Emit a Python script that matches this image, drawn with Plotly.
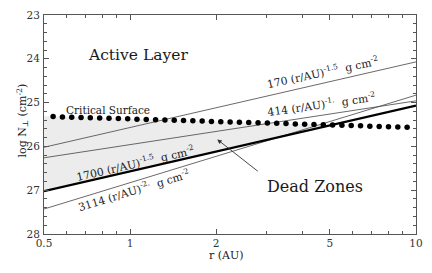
import plotly.graph_objects as go

# Power-law column-density lines: log N at r = 0.5 AU and r = 10 AU
line_r = [0.5, 10.0]
line_170 = [26.02, 24.07]
line_414 = [26.26, 24.96]
line_1700 = [27.02, 25.07]
line_3114 = [27.43, 24.83]

# Critical surface dots
crit_r = [0.538, 0.580, 0.625, 0.674, 0.726, 0.783, 0.844, 0.910, 0.981, 1.057,
          1.139, 1.228, 1.324, 1.427, 1.538, 1.658, 1.787, 1.926, 2.076, 2.238,
          2.412, 2.600, 2.803, 3.021, 3.257, 3.510, 3.784, 4.079, 4.397, 4.739,
          5.108, 5.506, 5.935, 6.398, 6.896, 7.434, 8.013, 8.637, 9.310]
crit_logN = [25.320, 25.326, 25.333, 25.339, 25.346, 25.352, 25.358, 25.365, 25.371, 25.378,
             25.384, 25.390, 25.397, 25.403, 25.410, 25.416, 25.422, 25.429, 25.435, 25.442,
             25.448, 25.455, 25.461, 25.467, 25.474, 25.480, 25.486, 25.493, 25.499, 25.506,
             25.512, 25.519, 25.525, 25.531, 25.538, 25.544, 25.551, 25.557, 25.563]

# Dead zone shaded polygon
fill_r = [0.5, 5.1, 0.5]
fill_logN = [25.31, 25.51, 27.02]

x_tickvals = [0.5, 1, 2, 5, 10]
x_ticktext = ["0.5", "1", "2", "5", "10"]
x_minor = [0.6, 0.7, 0.8, 0.9, 3, 4, 6, 7, 8, 9]
y_tickvals = [23, 24, 25, 26, 27, 28]

FONT = "DejaVu Serif"
LINE_COL = "#444444"
TXT_COL = "#1a1a1a"

fig = go.Figure()
fig.add_trace(go.Scatter(x=fill_r, y=fill_logN, mode="lines", fill="toself",
                         fillcolor="#ececec", line=dict(width=0), hoverinfo="skip"))
for ys in (line_170, line_414, line_3114):
    fig.add_trace(go.Scatter(x=line_r, y=ys, mode="lines",
                             line=dict(color=LINE_COL, width=0.8)))
fig.add_trace(go.Scatter(x=line_r, y=line_1700, mode="lines",
                         line=dict(color="black", width=2.2)))
fig.add_trace(go.Scatter(x=crit_r, y=crit_logN, mode="markers",
                         marker=dict(color="black", size=5.5)))

axis_common = dict(showline=True, linecolor="#555555", linewidth=1, mirror="ticks",
                   ticks="inside", ticklen=5, tickcolor="#555555", tickwidth=1,
                   showgrid=False, zeroline=False, ticklabeloverflow="allow",
                   tickfont=dict(family=FONT, size=10.5, color="#333333"))

fig.update_layout(
    width=432, height=273,
    margin=dict(l=44, r=9, t=9, b=39),
    paper_bgcolor="white", plot_bgcolor="white",
    showlegend=False,
    font=dict(family=FONT, color=TXT_COL),
    xaxis=dict(type="log", range=[-0.30103, 1.0], tickmode="array",
               tickvals=x_tickvals, ticktext=x_ticktext, ticklabelstandoff=-1,
               minor=dict(tickmode="array", tickvals=x_minor, ticks="inside",
                          ticklen=3, tickcolor="#555555"),
               **axis_common),
    yaxis=dict(range=[28, 23], tickmode="array", tickvals=y_tickvals,
               ticklabelstandoff=1,
               minor=dict(dtick=0.2, ticks="inside", ticklen=3, tickcolor="#555555"),
               **axis_common),
)

ann = []
def txt(x, y, t, size, angle=0, **kw):
    d = dict(x=x, y=y, text=t, showarrow=False, textangle=angle,
             font=dict(family=FONT, size=size, color=TXT_COL))
    d.update(kw)
    ann.append(d)

txt(0.0277, 23.91, "Active Layer", 15.5, xref="x", yref="y")
txt(0.6474, 26.91, "Dead Zones", 16, xref="x", yref="y")
txt(-0.0773, 25.16, "Critical Surface", 10.5, xref="x", yref="y")
txt(0.673, 24.31, "170 (r/AU)<sup>-1.5</sup>  g cm<sup>-2</sup>", 10.8, angle=-12, xref="x", yref="y")
txt(0.669, 25.04, "414 (r/AU)<sup>-1.</sup>  g cm<sup>-2</sup>", 10.8, angle=-8, xref="x", yref="y")
txt(0.019, 26.38, "1700 (r/AU)<sup>-1.5</sup>  g cm<sup>-2</sup>", 10.8, angle=-13, xref="x", yref="y")
txt(0.0124, 27.0, "3114 (r/AU)<sup>-2.</sup>  g cm<sup>-2</sup>", 10.8, angle=-17, xref="x", yref="y")
txt(0.49, 0, "r (AU)", 11, xref="paper", yref="paper", yshift=-30)
txt(0, 0.5, "log N<sub>⊥</sub> (cm<sup>-2</sup>)", 11, angle=-90, xref="paper", yref="paper",
    xshift=-32, yshift=4)

ann.append(dict(x=0.3049, y=25.84, xref="x", yref="y", ax=42, ay=33, showarrow=True,
                arrowhead=2, arrowsize=1, arrowwidth=0.9, arrowcolor="#333333", text=""))
fig.update_layout(annotations=ann)

# Remove the default page margin so the 432x273 figure fills the window exactly
fig.write_html("out.html", config={"displayModeBar": False},
               post_script="document.body.style.margin='0px';document.body.style.overflow='hidden';")
